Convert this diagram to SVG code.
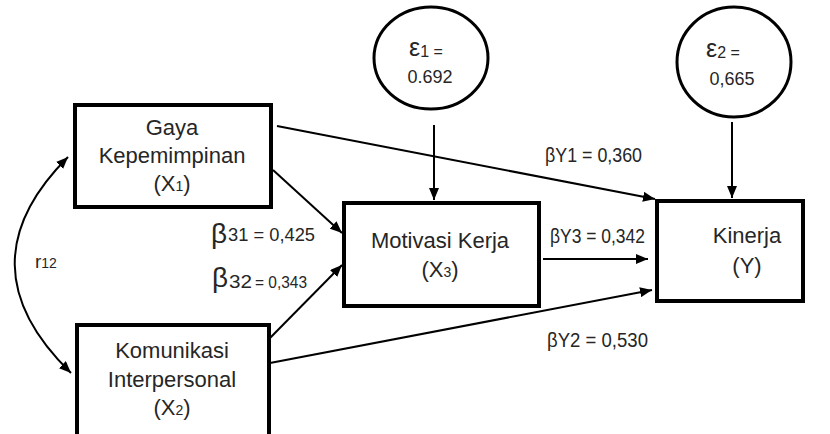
<svg xmlns="http://www.w3.org/2000/svg" width="830" height="434" viewBox="0 0 830 434">
  <style>
    .box { fill: #ffffff; stroke: #000000; stroke-width: 4; }
    .err { fill: #ffffff; stroke: #000000; stroke-width: 3; }
    .edge { fill: none; stroke: #000000; stroke-width: 2; }
    text { font-family: "Liberation Sans", Arial, sans-serif; fill: #262626; }
    .lbl { font-size: 22px; text-anchor: middle; }
    .coef { font-size: 20px; }
  </style>
  <defs>
    <marker id="head" viewBox="0 0 12 10" refX="12" refY="5" markerWidth="12" markerHeight="10" markerUnits="userSpaceOnUse" orient="auto-start-reverse">
      <path d="M0,0 L12,5 L0,10 Z" fill="#000000"/>
    </marker>
  </defs>

  <!-- connectors -->
  <g id="connectors">
    <path class="edge" d="M277,126 L655,199" marker-end="url(#head)"/>
    <path class="edge" d="M273,170 L342,233" marker-end="url(#head)"/>
    <path class="edge" d="M270,338 L342,265" marker-end="url(#head)"/>
    <path class="edge" d="M270,363 L652,290" marker-end="url(#head)"/>
    <path class="edge" d="M543,259 L648,259" marker-end="url(#head)"/>
    <path class="edge" d="M434,125 L434,200" marker-end="url(#head)"/>
    <path class="edge" d="M732,122 L732,198" marker-end="url(#head)"/>
    <path class="edge" d="M68,157 Q-40,265 71,373" marker-start="url(#head)" marker-end="url(#head)"/>
  </g>

  <!-- path coefficients -->
  <g id="labels">
    <text x="35" y="268" font-size="19">r<tspan font-size="14">12</tspan></text>
    <text x="211" y="243" font-size="28">β</text>
    <text x="228" y="241" font-size="19" textLength="87" lengthAdjust="spacingAndGlyphs">31 = 0,425</text>
    <text x="212" y="287" font-size="28">β</text>
    <text x="229" y="288" font-size="19" textLength="23" lengthAdjust="spacingAndGlyphs">32</text>
    <text x="255" y="288" font-size="17" textLength="52" lengthAdjust="spacingAndGlyphs">= 0,343</text>
    <text class="coef" x="545" y="162" textLength="97" lengthAdjust="spacingAndGlyphs">βY1 = 0,360</text>
    <text class="coef" x="550" y="243" textLength="95" lengthAdjust="spacingAndGlyphs">βY3 = 0,342</text>
    <text class="coef" x="547" y="347" textLength="101" lengthAdjust="spacingAndGlyphs">βY2 = 0,530</text>
  </g>

  <g id="e1">
    <ellipse class="err" cx="431" cy="58" rx="57" ry="51"/>
    <text x="409" y="56" font-size="25">ε<tspan font-size="16" dy="1">1 =</tspan></text>
    <text x="430" y="83" font-size="18" text-anchor="middle">0.692</text>
  </g>

  <g id="e2">
    <ellipse class="err" cx="734" cy="62" rx="57" ry="55"/>
    <text x="706" y="57" font-size="25">ε<tspan font-size="16" dy="1">2 =</tspan></text>
    <text x="732" y="85" font-size="18" text-anchor="middle">0,665</text>
  </g>

  <g id="x1">
    <rect class="box" x="75" y="105" width="196" height="102"/>
    <text class="lbl" x="172" y="135">Gaya</text>
    <text class="lbl" x="172" y="163">Kepemimpinan</text>
    <text class="lbl" x="172" y="191">(X<tspan font-size="14">1</tspan>)</text>
  </g>

  <g id="x2">
    <rect class="box" x="77" y="325" width="192" height="120"/>
    <text class="lbl" x="172" y="358">Komunikasi</text>
    <text class="lbl" x="172" y="387">Interpersonal</text>
    <text class="lbl" x="172" y="415">(X<tspan font-size="14">2</tspan>)</text>
  </g>

  <g id="x3">
    <rect class="box" x="344" y="203" width="195" height="103"/>
    <text class="lbl" x="440" y="248">Motivasi Kerja</text>
    <text class="lbl" x="440" y="277">(X<tspan font-size="14">3</tspan>)</text>
  </g>

  <g id="y">
    <rect class="box" x="657" y="201" width="146" height="100"/>
    <text class="lbl" x="747" y="243">Kinerja</text>
    <text class="lbl" x="747" y="273">(Y)</text>
  </g>
</svg>
